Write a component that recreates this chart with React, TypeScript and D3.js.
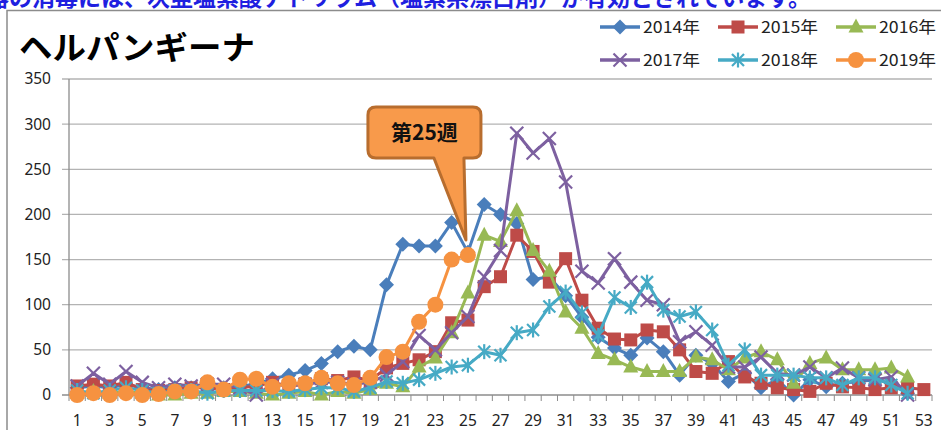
import React from "react";
import * as d3 from "d3";

const weeks: number[] = d3.range(1, 54);
const xTickLabels: number[] = d3.range(1, 54, 2);
const yTicks: number[] = [0, 50, 100, 150, 200, 250, 300, 350];

const title = "ヘルパンギーナ";
const topNote = "器の消毒には、次亜塩素酸ナトリウム（塩素系漂白剤）が有効とされています。";
const calloutLabel = "第25週";
const calloutWeek = 25;

const seriesNames = ["2014年", "2015年", "2016年", "2017年", "2018年", "2019年"];

const y2014: (number | null)[] = [8, 10, 8, 12, 8, 6, 8, 8, 10, 8, 10, 12, 18, 22, 27, 35, 48, 54, 50, 122, 167, 165, 165, 191, 158, 211, 200, 190, 128, 131, 110, 86, 64, 52, 44, 63, 48, 22, 44, 35, 15, 24, 8, 17, 0, 17, 9, 13, 15, 17, 13, 2, null];
const y2015: (number | null)[] = [10, 12, 10, 14, 6, 5, 6, 8, 8, 6, 8, 10, 14, 10, 12, 18, 16, 20, 16, 30, 35, 39, 48, 80, 83, 120, 131, 177, 159, 125, 151, 105, 74, 62, 61, 72, 70, 50, 26, 24, 37, 20, 13, 8, 6, 4, 13, 9, 8, 6, 8, 8, 6];
const y2016: (number | null)[] = [2, 4, 2, 4, 2, 0, 0, 2, 2, 4, 4, 2, 0, 2, 4, 0, 4, 2, 6, 13, 9, 31, 41, 69, 113, 177, 170, 204, 160, 137, 92, 74, 46, 39, 31, 26, 26, 26, 42, 39, 28, 41, 48, 39, 13, 35, 41, 28, 28, 28, 30, 20, null];
const y2017: (number | null)[] = [10, 24, 12, 26, 14, 8, 12, 10, 12, 12, 8, 0, 12, 10, 12, 14, 14, 12, 14, 22, 37, 66, 50, 69, 87, 131, 160, 290, 268, 284, 236, 137, 124, 151, 125, 105, 100, 59, 70, 55, 31, 31, 42, 24, 22, 31, 19, 30, 19, 17, 20, 0, null];
const y2018: (number | null)[] = [5, 2, 5, 8, 5, 2, 5, 5, 2, 5, 5, 5, 5, 4, 6, 8, 8, 4, 8, 15, 13, 17, 24, 31, 33, 48, 44, 69, 72, 98, 114, 91, 66, 108, 97, 125, 94, 87, 92, 72, 33, 50, 22, 22, 22, 19, 19, 11, 19, 19, 11, 2, null];
const y2019: (number | null)[] = [0, 2, 0, 2, 0, 1, 4, 4, 14, 6, 17, 18, 9, 13, 13, 19, 13, 11, 19, 42, 48, 81, 100, 150, 155];

const seriesValues = [y2014, y2015, y2016, y2017, y2018, y2019];
const colors = ["#4A7EBB", "#BE4B48", "#98B954", "#7D60A0", "#46AAC5", "#F69240"];
const markerTypes = ["diamond", "square", "triangle", "x", "star", "circle"];

const W = 941;
const H = 430;
const plot = { left: 69, right: 932, top: 79, bottom: 395 };

function Marker({ type, color, cx, cy }: { type: string; color: string; cx: number; cy: number }) {
  switch (type) {
    case "diamond":
      return <path d={`M${cx},${cy - 7.5}L${cx + 7.5},${cy}L${cx},${cy + 7.5}L${cx - 7.5},${cy}Z`} fill={color} />;
    case "square":
      return <rect x={cx - 6.5} y={cy - 6.5} width={13} height={13} fill={color} />;
    case "triangle":
      return <path d={`M${cx},${cy - 8.5}L${cx + 7.5},${cy + 5.5}L${cx - 7.5},${cy + 5.5}Z`} fill={color} />;
    case "x":
      return (
        <g stroke={color} strokeWidth={2.2}>
          <line x1={cx - 6.5} y1={cy - 6.5} x2={cx + 6.5} y2={cy + 6.5} />
          <line x1={cx - 6.5} y1={cy + 6.5} x2={cx + 6.5} y2={cy - 6.5} />
        </g>
      );
    case "star":
      return (
        <g stroke={color} strokeWidth={2.2}>
          <line x1={cx - 6} y1={cy - 6} x2={cx + 6} y2={cy + 6} />
          <line x1={cx - 6} y1={cy + 6} x2={cx + 6} y2={cy - 6} />
          <line x1={cx} y1={cy - 7.5} x2={cx} y2={cy + 7.5} />
        </g>
      );
    default:
      return <circle cx={cx} cy={cy} r={8} fill={color} />;
  }
}

export default function App() {
  const x = d3.scaleBand<number>().domain(weeks).range([plot.left, plot.right]).padding(0);
  const bw = x.bandwidth();
  const cx = (w: number) => (x(w) as number) + bw / 2;
  const y = d3.scaleLinear().domain([0, 350]).range([plot.bottom, plot.top]);

  const line = d3
    .line<number | null>()
    .defined((d) => d !== null)
    .x((_, i) => cx(weeks[i]))
    .y((d) => y(d as number));

  const tickBounds = d3.range(0, weeks.length + 1).map((i) => plot.left + i * bw);

  const tipX = cx(calloutWeek) - 2;
  const tipY = y(y2019[calloutWeek - 1] as number) - 15;
  const bx0 = tipX - 98, bx1 = tipX + 15, by0 = 107, by1 = 158, r = 8;
  const calloutPath = `M${bx0 + r},${by0}H${bx1 - r}Q${bx1},${by0} ${bx1},${by0 + r}V${by1 - r}Q${bx1},${by1} ${bx1 - r},${by1}H${tipX - 2}L${tipX},${tipY}L${tipX - 32},${by1}H${bx0 + r}Q${bx0},${by1} ${bx0},${by1 - r}V${by0 + r}Q${bx0},${by0} ${bx0 + r},${by0}Z`;

  const legendPos = [
    [600, 27], [718, 27], [836, 27],
    [600, 60], [718, 60], [836, 60],
  ];

  return (
    <svg width={W} height={H} style={{ position: "absolute", left: 0, top: 0 }} fontFamily="'Noto Sans', sans-serif">
      <rect x={0} y={0} width={W} height={H} fill="#ffffff" />
      <text x={-14} y={6} fontSize={23} fontWeight="bold" fill="#1F1FE0" fontFamily="'Noto Sans CJK JP', sans-serif">
        {topNote}
      </text>
      <rect x={7} y={10.5} width={W} height={H} fill="#ffffff" stroke="#8C8C8C" strokeWidth={1.5} />

      <text x={19} y={59} fontSize={32} fontWeight="bold" fill="#000" fontFamily="'Noto Sans CJK JP', sans-serif" textLength={236} lengthAdjust="spacingAndGlyphs">
        {title}
      </text>

      {yTicks.map((t) => (
        <g key={t}>
          <line x1={plot.left - 7} x2={plot.right} y1={y(t)} y2={y(t)} stroke={t === 0 ? "#8C8C8C" : "#B3B3B3"} strokeWidth={1.3} />
          <text x={51} y={y(t)} dy="0.35em" textAnchor="end" fontSize={15.5} fill="#222">
            {t}
          </text>
        </g>
      ))}
      <line x1={plot.left} x2={plot.left} y1={plot.top} y2={plot.bottom} stroke="#8C8C8C" strokeWidth={1.3} />
      {tickBounds.map((b, i) => (
        <line key={i} x1={b} x2={b} y1={plot.bottom} y2={plot.bottom + 6} stroke="#8C8C8C" strokeWidth={1} />
      ))}
      {xTickLabels.map((w) => (
        <text key={w} x={cx(w)} y={421} dy="0.35em" textAnchor="middle" fontSize={15.5} fill="#222">
          {w}
        </text>
      ))}

      {seriesValues.map((vals, s) => (
        <g key={s}>
          <path d={line(vals) || ""} fill="none" stroke={colors[s]} strokeWidth={3} strokeLinejoin="round" />
          {vals.map((v, i) =>
            v === null ? null : <Marker key={i} type={markerTypes[s]} color={colors[s]} cx={cx(weeks[i])} cy={y(v)} />
          )}
        </g>
      ))}

      <path d={calloutPath} fill="#F89A4B" stroke="#B86D2E" strokeWidth={3} strokeLinejoin="round" />
      <text x={(bx0 + bx1) / 2} y={(by0 + by1) / 2} dy="0.36em" textAnchor="middle" fontSize={21} fontWeight="bold" fill="#111" fontFamily="'Noto Sans CJK JP', sans-serif">
        {calloutLabel}
      </text>

      {seriesNames.map((n, s) => {
        const [lx, ly] = legendPos[s];
        return (
          <g key={n}>
            <line x1={lx} x2={lx + 40} y1={ly} y2={ly} stroke={colors[s]} strokeWidth={3.5} />
            <Marker type={markerTypes[s]} color={colors[s]} cx={lx + 20} cy={ly} />
            <text x={lx + 43} y={ly} dy="0.36em" fontSize={16} fill="#222" fontFamily="'Noto Sans CJK JP', sans-serif" textLength={57} lengthAdjust="spacingAndGlyphs">
              {n}
            </text>
          </g>
        );
      })}
    </svg>
  );
}
